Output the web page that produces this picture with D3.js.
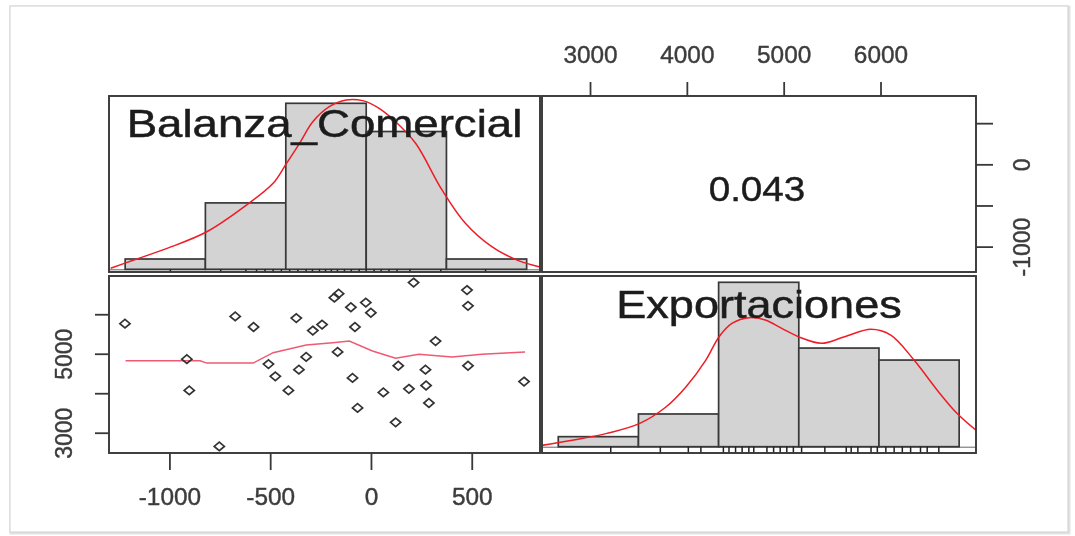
<!DOCTYPE html>
<html><head><meta charset="utf-8">
<script src="https://cdn.jsdelivr.net/npm/d3@7"></script>
<style>body{margin:0;background:#fff}svg{display:block}text{font-family:"Liberation Sans",Arial,sans-serif}</style>
</head><body><svg id="c" width="1075" height="536"></svg>
<script>
// ---- data ----
const varNames = ["Balanza_Comercial", "Exportaciones"];
const corrText = "0.043";
const balanza = [-1223,-916,-904,-755,-676,-585,-511,-477,-412,-373,-360,-324,-291,-245,-184,-163,-168,-102,-94,-82,-69,-28,-3,59,120,133,186,209,268,271,285,318,474,479,479,757];
const exportaciones = [5775,4875,4083,2665,5958,5690,4750,4440,4083,5915,4608,4933,5600,5750,6433,6533,5058,6190,4400,5690,3640,6308,6050,4033,3275,4708,4125,6815,4608,4208,3765,5333,6625,6225,4708,4308];
const balBreaks = [-1222,-824,-425,-26,372,770];
const balHeights = [0.062,0.40,1.0,0.83,0.062];
const expBreaks = [2667,3495,4323,5151,5979,6807];
const expHeights = [0.061,0.199,1.0,0.60,0.527];
const balRug = [-998,-748,-623,-570,-528,-488,-447,-406,-365,-324,-293,-258,-228,-199,-169,-134,-100,-61,-26,13,48,87,127,191,344,566];
const expRug = [3209,3721,4010,4140,4372,4430,4498,4566,4635,4686,4822,4891,4959,5027,5095,5180,5420,5641,5692,5761,5897,5962,6050,6136,6220,6306,6408,6477,6597];
const balDensity = [[-1294,0.006],[-1179,0.056],[-1014,0.126],[-817,0.226],[-620,0.387],[-488,0.518],[-427,0.628],[-357,0.759],[-291,0.889],[-209,0.98],[-126,1.02],[-44,1.016],[38,0.97],[120,0.889],[219,0.759],[350,0.478],[466,0.277],[597,0.136],[729,0.052],[836,0.014]];
const expDensity = [[2499,0.008],[2826,0.041],[3168,0.081],[3509,0.142],[3782,0.243],[3987,0.365],[4191,0.527],[4328,0.669],[4464,0.751],[4635,0.785],[4805,0.771],[4975,0.72],[5146,0.669],[5385,0.629],[5624,0.669],[5897,0.714],[6101,0.679],[6341,0.527],[6579,0.345],[6784,0.203],[6981,0.1]];
const smoothLine = [[-1220,4833],[-850,4833],[-817,4775],[-587,4775],[-488,5040],[-324,5233],[-192,5290],[-110,5333],[5,5083],[120,4900],[235,5000],[400,4933],[548,5000],[762,5058]];
const balTicks = [-1000,-500,0,500];
const balBottomLabels = ["-1000","-500","0","500"];
const balRightLabels = ["-1000","","0",""];
const expTicks = [3000,4000,5000,6000];
const expTopLabels = ["3000","4000","5000","6000"];
const expLeftLabels = ["3000","","5000",""];

// ---- layout ----
const col1 = [109, 540], col2 = [542, 976];
const row1 = [96, 272], row2 = [276, 453];
const svg = d3.select("#c");
const ink = "#383838";

function padded(a){const e=d3.extent(a);const p=(e[1]-e[0])*0.04;return [e[0]-p,e[1]+p];}
const xBal = d3.scaleLinear().domain(padded(balanza)).range(col1);
const yBal = d3.scaleLinear().domain(padded(balanza)).range([row1[1], row1[0]]);
const xExp = d3.scaleLinear().domain(padded(exportaciones)).range(col2);
const yExp = d3.scaleLinear().domain(padded(exportaciones)).range([row2[1], row2[0]]);
const hBal = d3.scaleLinear().domain([0,1]).range([269.3, 103.3]);
const hExp = d3.scaleLinear().domain([0,1]).range([446.7, 282.3]);

// outer screenshot frame
svg.append("rect").attr("x",11).attr("y",7).attr("width",1058).attr("height",526)
  .attr("fill","none").attr("stroke","#e2e2e2").attr("stroke-width",3);
svg.append("rect").attr("x",10).attr("y",6).attr("width",1058).attr("height",526)
  .attr("fill","#fff").attr("stroke","#cfcfcf").attr("stroke-width",1);

const defs = svg.append("defs");
defs.append("filter").attr("id","soft").append("feGaussianBlur").attr("stdDeviation",0.45);
function clip(id,x,y){defs.append("clipPath").attr("id",id).append("rect")
  .attr("x",x[0]).attr("y",y[0]).attr("width",x[1]-x[0]).attr("height",y[1]-y[0]);}
clip("p11",col1,row1); clip("p22",col2,row2); clip("p21",col1,row2);

function stretch(sel, f){sel.each(function(){const w=this.getComputedTextLength();
  d3.select(this).attr("textLength",w*f).attr("lengthAdjust","spacingAndGlyphs");});}

const root = svg.append("g").attr("filter","url(#soft)");

// ---- diagonal panel helper ----
function diagPanel(id, xs, hs, breaks, heights, rug, dens, xr, yr, name, nameY, nameSize){
  const g = root.append("g").attr("clip-path",`url(#${id})`);
  g.append("line").attr("x1",xr[0]).attr("x2",xr[1]).attr("y1",hs(0)+0.5).attr("y2",hs(0)+0.5)
    .attr("stroke","#666").attr("stroke-width",1);
  g.selectAll("rect.bar").data(heights).join("rect").attr("class","bar")
    .attr("x",(d,i)=>xs(breaks[i])).attr("width",(d,i)=>xs(breaks[i+1])-xs(breaks[i]))
    .attr("y",d=>hs(d)).attr("height",d=>hs(0)-hs(d))
    .attr("fill","#d3d3d3").attr("stroke",ink).attr("stroke-width",1.7);
  g.selectAll("line.rug").data(rug).join("line").attr("class","rug")
    .attr("x1",d=>xs(d)).attr("x2",d=>xs(d)).attr("y1",hs(0)).attr("y2",yr[1])
    .attr("stroke","#222").attr("stroke-width",1.5);
  g.append("path").datum(dens).attr("fill","none").attr("stroke","#ee1c25").attr("stroke-width",1.5)
    .attr("d",d3.line().x(d=>xs(d[0])).y(d=>hs(d[1])).curve(d3.curveCatmullRom));
  const t = root.append("text").attr("x",(xr[0]+xr[1])/2).attr("y",nameY).attr("text-anchor","middle")
    .attr("font-size",nameSize).attr("fill","#1c1c1c").attr("stroke","#1c1c1c").attr("stroke-width",0.5).text(name);
  stretch(t,1.17);
}
diagPanel("p11", xBal, hBal, balBreaks, balHeights, balRug, balDensity, col1, row1, varNames[0], 136.7, 39);
diagPanel("p22", xExp, hExp, expBreaks, expHeights, expRug, expDensity, col2, row2, varNames[1], 318.3, 38.5);

// ---- correlation panel ----
const ct = root.append("text").attr("x",(col2[0]+col2[1])/2 - 2).attr("y",200.7).attr("text-anchor","middle")
  .attr("font-size",34.5).attr("fill","#1c1c1c").attr("stroke","#1c1c1c").attr("stroke-width",0.4).text(corrText);
stretch(ct,1.12);

// ---- scatter panel ----
const gs = root.append("g").attr("clip-path","url(#p21)");
gs.append("path").datum(smoothLine).attr("fill","none").attr("stroke","#ef5a72").attr("stroke-width",1.5)
  .attr("d",d3.line().x(d=>xBal(d[0])).y(d=>yExp(d[1])));
root.append("g").selectAll("path").data(balanza).join("path")
  .attr("transform",(d,i)=>`translate(${xBal(d)},${yExp(exportaciones[i])})`)
  .attr("d","M0,-4.3L5.1,0L0,4.3L-5.1,0Z").attr("fill","none").attr("stroke","#333").attr("stroke-width",1.7);

// ---- panel borders ----
[[col1,row1],[col2,row1],[col1,row2],[col2,row2]].forEach(([x,y])=>{
  root.append("rect").attr("x",x[0]).attr("y",y[0]).attr("width",x[1]-x[0]).attr("height",y[1]-y[0])
    .attr("fill","none").attr("stroke",ink).attr("stroke-width",1.9);
});

// ---- axes ----
const axCol = "#3c3c3c";
// bottom (Balanza)
const gb = root.append("g");
gb.selectAll("line").data(balTicks).join("line").attr("x1",d=>xBal(d)).attr("x2",d=>xBal(d))
  .attr("y1",row2[1]).attr("y2",row2[1]+17).attr("stroke",ink).attr("stroke-width",1.8);
gb.selectAll("text").data(balTicks).join("text").attr("x",d=>xBal(d)).attr("y",505)
  .attr("text-anchor","middle").attr("font-size",23).attr("fill",axCol).attr("stroke",axCol).attr("stroke-width",0.4)
  .text((d,i)=>balBottomLabels[i]).call(s=>stretch(s,1.06));
// top (Exportaciones)
const gt = root.append("g");
gt.selectAll("line").data(expTicks).join("line").attr("x1",d=>xExp(d)).attr("x2",d=>xExp(d))
  .attr("y1",row1[0]).attr("y2",row1[0]-14).attr("stroke",ink).attr("stroke-width",1.8);
gt.selectAll("text").data(expTicks).join("text").attr("x",d=>xExp(d)).attr("y",63.3)
  .attr("text-anchor","middle").attr("font-size",23).attr("fill",axCol).attr("stroke",axCol).attr("stroke-width",0.4)
  .text((d,i)=>expTopLabels[i]).call(s=>stretch(s,1.06));
// left (Exportaciones)
const gl = root.append("g");
gl.selectAll("line").data(expTicks).join("line").attr("x1",col1[0]).attr("x2",col1[0]-14)
  .attr("y1",d=>yExp(d)).attr("y2",d=>yExp(d)).attr("stroke",ink).attr("stroke-width",1.8);
gl.selectAll("text").data(expTicks.filter((d,i)=>expLeftLabels[i])).join("text")
  .attr("transform",d=>`translate(72,${yExp(d)}) rotate(-90)`).attr("text-anchor","middle")
  .attr("font-size",23).attr("fill",axCol).attr("stroke",axCol).attr("stroke-width",0.4)
  .text(d=>expLeftLabels[expTicks.indexOf(d)]);
// right (Balanza)
const gr = root.append("g");
gr.selectAll("line").data(balTicks).join("line").attr("x1",col2[1]).attr("x2",col2[1]+17)
  .attr("y1",d=>yBal(d)).attr("y2",d=>yBal(d)).attr("stroke",ink).attr("stroke-width",1.8);
gr.selectAll("text").data(balTicks.filter((d,i)=>balRightLabels[i])).join("text")
  .attr("transform",d=>`translate(1030,${yBal(d)}) rotate(-90)`).attr("text-anchor","middle")
  .attr("font-size",23).attr("fill",axCol).attr("stroke",axCol).attr("stroke-width",0.4)
  .text(d=>balRightLabels[balTicks.indexOf(d)]);
</script></body></html>
